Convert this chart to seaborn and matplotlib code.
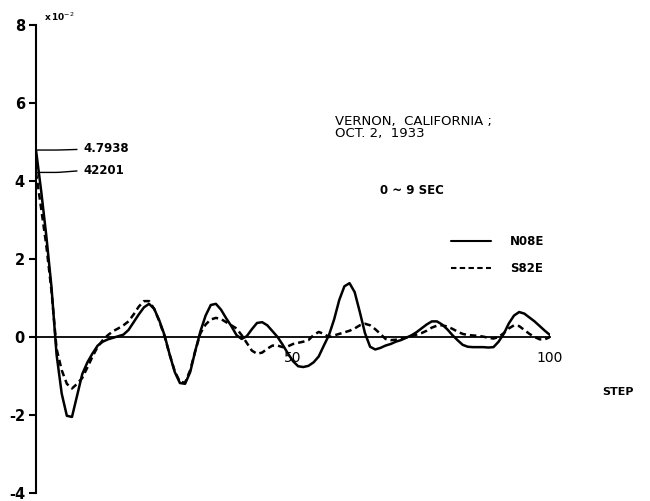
import matplotlib
matplotlib.use("Agg")
import matplotlib.pyplot as plt
import numpy as np
import pandas as pd
import seaborn as sns

# Response per step (x10^-2), Vernon, California, Oct. 2, 1933, 0~9 sec
steps = list(range(0, 101))

n08e = [
    4.7938, 3.75, 2.60, 1.30, -0.45, -1.45, -2.02, -2.05, -1.50, -0.95,
    -0.65, -0.42, -0.22, -0.12, -0.06, -0.02, 0.02, 0.06, 0.18, 0.38,
    0.58, 0.76, 0.85, 0.72, 0.42, 0.05, -0.45, -0.90, -1.18, -1.20,
    -0.90, -0.35, 0.15, 0.55, 0.82, 0.85, 0.70, 0.48, 0.28, 0.05,
    -0.05, 0.02, 0.20, 0.36, 0.38, 0.30, 0.15, 0.00, -0.20, -0.42,
    -0.62, -0.75, -0.77, -0.74, -0.65, -0.50, -0.22, 0.05, 0.45, 0.95,
    1.30, 1.38, 1.15, 0.64, 0.10, -0.25, -0.32, -0.28, -0.22, -0.18,
    -0.12, -0.08, -0.02, 0.04, 0.12, 0.22, 0.32, 0.40, 0.40, 0.32,
    0.20, 0.05, -0.08, -0.20, -0.25, -0.26, -0.26, -0.26, -0.27, -0.26,
    -0.12, 0.08, 0.35, 0.55, 0.64, 0.60, 0.50, 0.40, 0.28, 0.16,
    0.05,
]

s82e = [
    4.2201, 3.30, 2.35, 1.20, -0.30, -0.85, -1.20, -1.32, -1.20, -1.05,
    -0.78, -0.50, -0.25, -0.08, 0.05, 0.15, 0.22, 0.30, 0.40, 0.58,
    0.78, 0.92, 0.92, 0.72, 0.40, 0.02, -0.45, -0.88, -1.15, -1.17,
    -0.85, -0.35, 0.10, 0.32, 0.45, 0.49, 0.46, 0.38, 0.30, 0.22,
    0.05, -0.15, -0.35, -0.43, -0.40, -0.30, -0.22, -0.22, -0.26, -0.24,
    -0.18, -0.15, -0.12, -0.08, 0.05, 0.13, 0.08, 0.00, 0.04, 0.08,
    0.12, 0.16, 0.22, 0.30, 0.34, 0.30, 0.20, 0.08, -0.05, -0.08,
    -0.07, -0.04, -0.02, 0.02, 0.06, 0.10, 0.16, 0.24, 0.29, 0.30,
    0.27, 0.21, 0.14, 0.08, 0.05, 0.04, 0.03, 0.01, -0.02, -0.04,
    0.00, 0.10, 0.22, 0.30, 0.28, 0.18, 0.08, 0.00, -0.06, -0.06,
    0.00,
]

components = ["N08E", "S82E"]
y_ticks = [-4, -2, 0, 2, 4, 6, 8]
x_ticks = [50, 100]
peak_labels = ["4.7938", "42201"]

df = pd.DataFrame({
    "step": steps * 2,
    "value": n08e + s82e,
    "component": [components[0]] * len(steps) + [components[1]] * len(steps),
})

sns.set_style("white")
plt.rcParams["font.family"] = ["DejaVu Sans"]
plt.rcParams["text.color"] = "black"
plt.rcParams["xtick.color"] = "black"
plt.rcParams["ytick.color"] = "black"

W, H = 650, 501
fig = plt.figure(figsize=(W / 100, H / 100), dpi=100)
ax = fig.add_axes([36 / W, 8 / H, 514 / W, 468 / H])

sns.lineplot(
    data=df, x="step", y="value", style="component",
    dashes={"N08E": "", "S82E": (2.6, 1.6)},
    color="black", linewidth=1.8, ax=ax, legend=True,
)

ax.set_xlim(0, 100)
ax.set_ylim(-4, 8)

# axes: left spine with outward ticks, horizontal axis through zero
for side in ["top", "right"]:
    ax.spines[side].set_visible(False)
ax.spines["left"].set_linewidth(1.5)
ax.spines["left"].set_color("black")
ax.spines["bottom"].set_position(("data", 0))
ax.spines["bottom"].set_linewidth(1.3)
ax.spines["bottom"].set_color("black")

ax.set_yticks(y_ticks)
ax.set_yticklabels([str(t) for t in y_ticks], fontsize=10.5, fontweight="bold")
ax.tick_params(axis="y", direction="out", length=5, width=1.5, pad=3, left=True)
ax.set_xticks(x_ticks)
ax.set_xticklabels([str(t) for t in x_ticks], fontsize=10)
ax.tick_params(axis="x", length=0, pad=10)
ax.set_xlabel("")
ax.set_ylabel("")
ax.grid(False)

def fx(px):
    return px / W

def fy(py):
    return 1 - py / H

fig.text(fx(44), fy(17), r"x$\,$10$^{-2}$", fontsize=6.5, fontweight="bold",
         ha="left", va="center")
fig.text(fx(602), fy(392), "STEP", fontsize=8, fontweight="bold",
         ha="left", va="center")
fig.text(fx(335), fy(122), "VERNON,  CALIFORNIA ;", fontsize=9.5,
         ha="left", va="center")
fig.text(fx(335), fy(134), "OCT. 2,  1933", fontsize=9.5,
         ha="left", va="center")
fig.text(fx(412), fy(190), "0 ~ 9 SEC", fontsize=8.5, fontweight="bold",
         ha="center", va="center")

# peak value callouts
peaks = [(0, n08e[0]), (0, s82e[0])]
text_rows = [149, 170]
for (sx, sv), label, row in zip(peaks, peak_labels, text_rows):
    ax.annotate(
        label, xy=(sx, sv), xycoords="data",
        xytext=(fx(83), fy(row)), textcoords="figure fraction",
        fontsize=8.5, fontweight="bold", ha="left", va="center",
        arrowprops=dict(arrowstyle="-", color="black", lw=1.0,
                        shrinkA=2, shrinkB=1,
                        connectionstyle="arc,angleA=180,armA=14,angleB=0,armB=22,rad=3"),
    )

handles, labels = ax.get_legend_handles_labels()
keep = [(h, l) for h, l in zip(handles, labels) if l in components]
leg = ax.legend(
    [h for h, _ in keep], [l for _, l in keep],
    loc="upper left", bbox_to_anchor=(fx(451), fy(235)),
    bbox_transform=fig.transFigure, frameon=False,
    borderpad=0, borderaxespad=0, handlelength=3.4, handletextpad=1.6,
    labelspacing=1.2, prop={"size": 8.5, "weight": "bold"},
)
for line in leg.get_lines():
    line.set_linewidth(1.5)

fig.savefig("out.png", dpi=100)
